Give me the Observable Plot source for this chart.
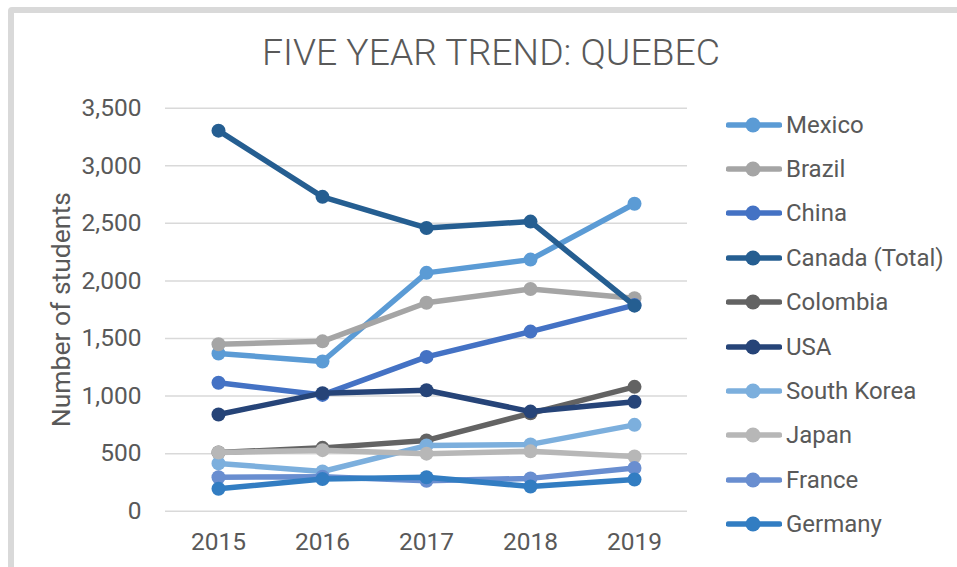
<!DOCTYPE html>
<html>
<head>
<meta charset="utf-8">
<script src="https://cdn.jsdelivr.net/npm/d3@7"></script>
<script src="https://cdn.jsdelivr.net/npm/@observablehq/plot@0.6"></script>
<style>
  html, body { margin: 0; padding: 0; background: #fff; }
  #wrap { position: relative; width: 957px; height: 567px; overflow: hidden; font-family: Roboto, "Open Sans", sans-serif; color: #595959; }
  #border { position: absolute; left: 8px; top: 7px; width: 1100px; height: 700px; border: 6px solid #d9d9d9; border-radius: 4px; box-sizing: border-box; }
  #chart { position: absolute; left: 0; top: 0; }
  #title { position: absolute; left: 0; top: 0; }
  #legend { position: absolute; left: 0; top: 0; width: 957px; height: 567px; pointer-events: none; }
  .item { position: absolute; left: 726px; height: 20px; display: flex; align-items: center; }
  .item span { font-size: 24px; margin-left: 4px; line-height: 20px; white-space: nowrap; }
</style>
</head>
<body>
<div id="wrap">
  <div id="border"></div>
  <div id="chart"></div>
  <svg id="title" width="957" height="90">
    <text x="262" y="65" textLength="458" lengthAdjust="spacingAndGlyphs" font-family="Roboto, sans-serif" font-weight="300" font-size="36.5" fill="#595959">FIVE YEAR TREND: QUEBEC</text>
  </svg>
  <div id="legend"></div>
</div>
<script>
const years = [2015, 2016, 2017, 2018, 2019];
const countries = ["Mexico", "Brazil", "China", "Canada (Total)", "Colombia", "USA", "South Korea", "Japan", "France", "Germany"];
const colors = ["#5B9BD5", "#A5A5A5", "#4472C4", "#255E91", "#636363", "#264478", "#7CAFDD", "#B7B7B7", "#698ED0", "#327DC2"];
const mexico     = [1370, 1300, 2070, 2185, 2670];
const brazil     = [1450, 1475, 1810, 1930, 1850];
const china      = [1115, 1010, 1340, 1560, 1790];
const canada     = [3305, 2730, 2460, 2515, 1785];
const colombia   = [510, 550, 615, 850, 1080];
const usa        = [840, 1025, 1050, 865, 950];
const southKorea = [415, 345, 570, 580, 750];
const japan      = [510, 530, 500, 520, 475];
const france     = [295, 300, 265, 285, 375];
const germany    = [195, 280, 295, 215, 275];
const yTicks = [0, 500, 1000, 1500, 2000, 2500, 3000, 3500];

const seriesValues = [mexico, brazil, china, canada, colombia, usa, southKorea, japan, france, germany];
const rows = countries.map((c, i) => years.map((yr, j) => ({country: c, year: yr, value: seriesValues[i][j]})));

const seriesMarks = rows.flatMap((data, i) => [
  Plot.line(data, {x: "year", y: "value", stroke: colors[i], strokeWidth: 5.5, strokeLinejoin: "round"}),
  Plot.dot(data, {x: "year", y: "value", r: 7, fill: colors[i], stroke: "none"})
]);

const fmt = d3.format(",");
const chart = Plot.plot({
  width: 957,
  height: 567,
  marginLeft: 165,
  marginRight: 270,
  marginTop: 107.7,
  marginBottom: 56.3,
  style: {fontFamily: "Roboto, sans-serif", fontSize: "24.5px", color: "#595959", background: "transparent"},
  x: {type: "point", domain: years, padding: 0.5},
  y: {domain: [0, 3500]},
  marks: [
    Plot.gridY(yTicks, {stroke: "#d9d9d9", strokeOpacity: 1, strokeWidth: 1.5}),
    Plot.axisY(yTicks, {tickSize: 0, tickPadding: 24, tickFormat: fmt, label: null, fontSize: 24.5, fill: "#595959"}),
    Plot.axisX(years, {tickSize: 0, tickPadding: 21, tickFormat: d => String(d), label: null, fontSize: 24.5, fill: "#595959"}),
    Plot.text(["Number of students"], {frameAnchor: "left", dx: -104, rotate: -90, textAnchor: "middle", lineAnchor: "middle", text: d => d, fontSize: 26.5, fill: "#595959"}),
    ...seriesMarks
  ]
});
document.getElementById("chart").appendChild(chart);

const legend = document.getElementById("legend");
countries.forEach((c, i) => {
  const cy = 124.5 + i * 44.4;
  const div = document.createElement("div");
  div.className = "item";
  div.style.top = (cy - 10) + "px";
  div.innerHTML = `<svg width="56" height="20"><line x1="2.5" y1="10" x2="53.5" y2="10" stroke="${colors[i]}" stroke-width="5.5" stroke-linecap="round"/><circle cx="27" cy="10" r="7.5" fill="${colors[i]}"/></svg><span>${c}</span>`;
  legend.appendChild(div);
});
</script>
</body>
</html>
